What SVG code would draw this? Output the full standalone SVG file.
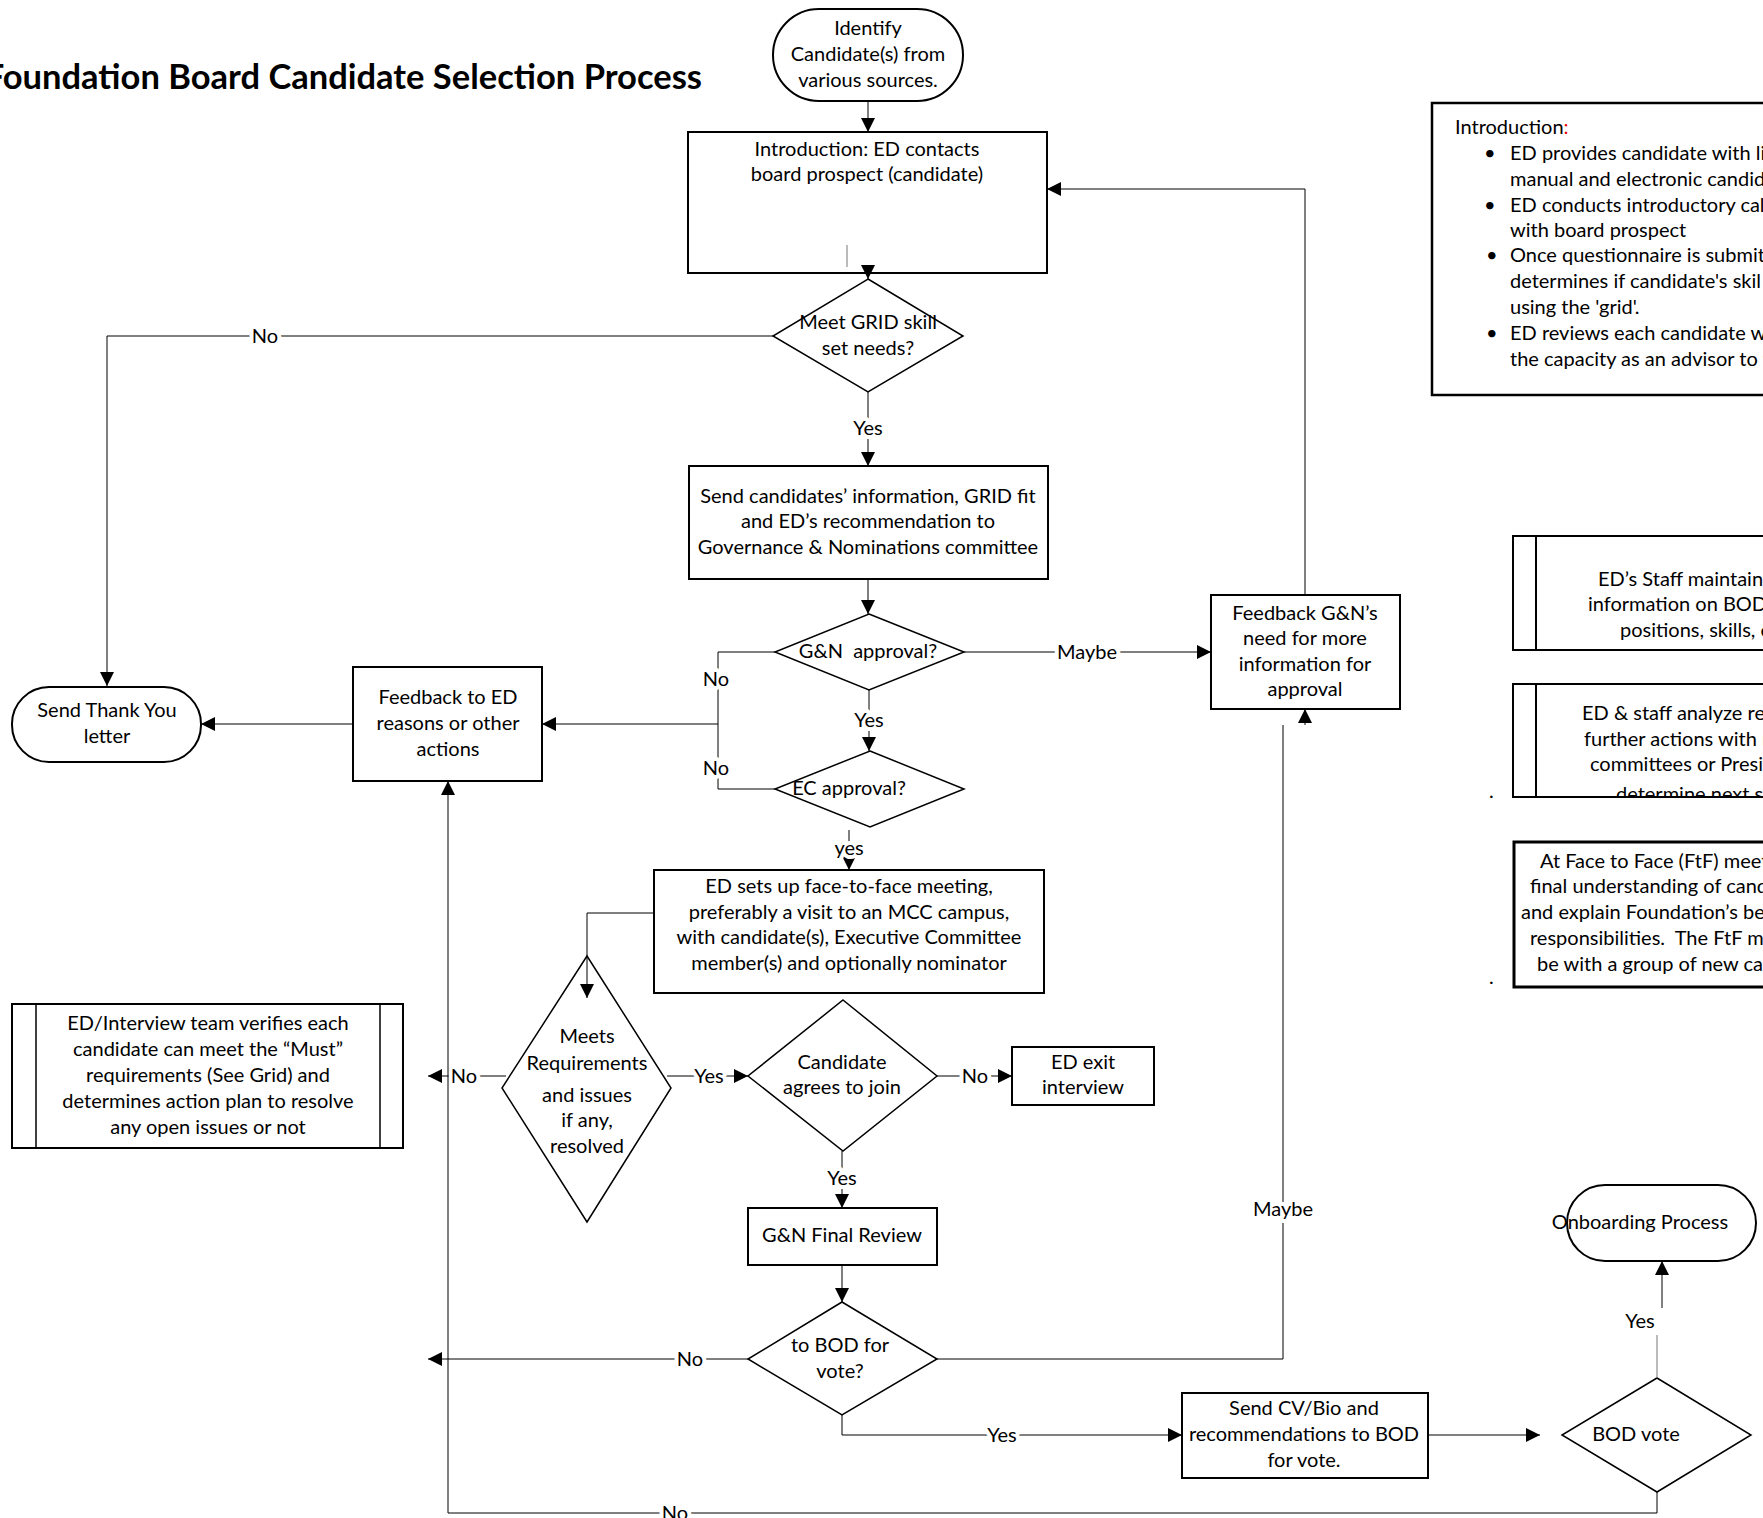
<svg xmlns="http://www.w3.org/2000/svg" width="1763" height="1518" viewBox="0 0 1763 1518">
<style>
.n{fill:#fff;stroke:#000;stroke-width:2}
.d{fill:#fff;stroke:#000;stroke-width:1.5}
.t{font-family:Lato,"Liberation Sans",sans-serif;font-size:20px;fill:#000;text-anchor:middle}
.s{font-family:Lato,"Liberation Sans",sans-serif;font-size:20px;fill:#000}
.c{fill:none;stroke:#000;stroke-width:1}
.g{fill:none;stroke:#777;stroke-width:1}
.a{marker-end:url(#ah)}
.l{font-family:Lato,"Liberation Sans",sans-serif;font-size:20px;fill:#000;text-anchor:middle;paint-order:stroke;stroke:#fff;stroke-width:8;stroke-linejoin:round}
.ttl{font-family:Lato,"Liberation Sans",sans-serif;font-size:34.5px;font-weight:bold;fill:#000;text-anchor:end}
</style>
<defs>
<marker id="ah" viewBox="0 0 10 10" refX="10" refY="5" markerWidth="14" markerHeight="14" markerUnits="userSpaceOnUse" orient="auto">
<path d="M0,0 L10,5 L0,10 z" fill="#000"/>
</marker>
<clipPath id="clipB"><rect x="1513" y="684" width="260" height="112"/></clipPath>
</defs>
<rect width="1763" height="1518" fill="#fff"/>

<text id="title" class="ttl" x="702" y="89">Foundation Board Candidate Selection Process</text>

<g id="start">
<rect class="n" x="773" y="9" width="190" height="92" rx="46" ry="46"/>
<text class="t"><tspan x="868" y="35">Identify</tspan><tspan x="868" y="61">Candidate(s) from</tspan><tspan x="868" y="87">various sources.</tspan></text>
</g>

<g id="intro">
<rect class="n" x="688" y="132" width="359" height="141"/>
<text class="t"><tspan x="867" y="156">Introduction: ED contacts</tspan><tspan x="867" y="181">board prospect (candidate)</tspan></text>
<line class="g" x1="847" y1="245" x2="847" y2="267"/>
</g>

<g id="gridq">
<polygon class="d" points="868,279 963,336 868,392 773,336"/>
<text class="t"><tspan x="868" y="329">Meet GRID skill</tspan><tspan x="868" y="355">set needs?</tspan></text>
</g>

<g id="sendinfo">
<rect class="n" x="689" y="466" width="359" height="113"/>
<text class="t"><tspan x="868" y="503">Send candidates’ information, GRID fit</tspan><tspan x="868" y="528">and ED’s recommendation to</tspan><tspan x="868" y="554">Governance &amp; Nominations committee</tspan></text>
</g>

<g id="gnq">
<polygon class="d" points="869,614 964,652 869,690 775,652"/>
<text class="t" x="868" y="658">G&amp;N&#160; approval?</text>
</g>

<g id="ecq">
<polygon class="d" points="870,751 964,789 870,827 775,789"/>
<text class="t" x="849" y="795">EC approval?</text>
</g>

<g id="fbgn">
<rect class="n" x="1211" y="595" width="189" height="114"/>
<text class="t"><tspan x="1305" y="620">Feedback G&amp;N’s</tspan><tspan x="1305" y="645">need for more</tspan><tspan x="1305" y="671">information for</tspan><tspan x="1305" y="696">approval</tspan></text>
</g>

<g id="fbed">
<rect class="n" x="353" y="667" width="189" height="114"/>
<text class="t"><tspan x="448" y="704">Feedback to ED</tspan><tspan x="448" y="730">reasons or other</tspan><tspan x="448" y="756">actions</tspan></text>
</g>

<g id="thanks">
<rect class="n" x="12" y="687" width="189" height="75" rx="37" ry="37"/>
<text class="t"><tspan x="107" y="717">Send Thank You</tspan><tspan x="107" y="743">letter</tspan></text>
</g>

<g id="ftf">
<rect class="n" x="654" y="870" width="390" height="123"/>
<text class="t"><tspan x="849" y="893">ED sets up face-to-face meeting,</tspan><tspan x="849" y="919">preferably a visit to an MCC campus,</tspan><tspan x="849" y="944">with candidate(s), Executive Committee</tspan><tspan x="849" y="970">member(s) and optionally nominator</tspan></text>
</g>

<g id="meetsq">
<polygon class="d" points="587,956 671,1088 587,1222 502,1088"/>
<text class="t"><tspan x="587" y="1043">Meets</tspan><tspan x="587" y="1070">Requirements</tspan><tspan x="587" y="1102">and issues</tspan><tspan x="587" y="1127">if any,</tspan><tspan x="587" y="1153">resolved</tspan></text>
</g>

<g id="agreeq">
<polygon class="d" points="843,1000 937,1076 843,1151 748,1076"/>
<text class="t"><tspan x="842" y="1069">Candidate</tspan><tspan x="842" y="1094">agrees to join</tspan></text>
</g>

<g id="exit">
<rect class="n" x="1012" y="1047" width="142" height="58"/>
<text class="t"><tspan x="1083" y="1069">ED exit</tspan><tspan x="1083" y="1094">interview</tspan></text>
</g>

<g id="verify">
<rect class="n" x="12" y="1004" width="391" height="144"/>
<line class="c" x1="36" y1="1004" x2="36" y2="1148" style="stroke-width:1.5"/>
<line class="c" x1="380" y1="1004" x2="380" y2="1148" style="stroke-width:1.5"/>
<text class="t"><tspan x="208" y="1030">ED/Interview team verifies each</tspan><tspan x="208" y="1056">candidate can meet the “Must”</tspan><tspan x="208" y="1082">requirements (See Grid) and</tspan><tspan x="208" y="1108">determines action plan to resolve</tspan><tspan x="208" y="1134">any open issues or not</tspan></text>
</g>

<g id="final">
<rect class="n" x="748" y="1208" width="189" height="57"/>
<text class="t" x="842" y="1242">G&amp;N Final Review</text>
</g>

<g id="bodq">
<polygon class="d" points="842,1302 937,1359 842,1415 748,1359"/>
<text class="t"><tspan x="840" y="1352">to BOD for</tspan><tspan x="840" y="1378">vote?</tspan></text>
</g>

<g id="sendcv">
<rect class="n" x="1182" y="1393" width="246" height="85"/>
<text class="t"><tspan x="1304" y="1415">Send CV/Bio and</tspan><tspan x="1304" y="1441">recommendations to BOD</tspan><tspan x="1304" y="1467">for vote.</tspan></text>
</g>

<g id="bodvote">
<polygon class="d" points="1657,1378 1751,1435 1657,1492 1562,1435"/>
<text class="t" x="1636" y="1441">BOD vote</text>
</g>

<g id="onboard">
<rect class="n" x="1567" y="1185" width="189" height="76" rx="38" ry="38"/>
<text class="t" x="1640" y="1229">Onboarding Process</text>
</g>

<g id="note-intro">
<rect class="n" x="1432" y="103" width="360" height="292" style="stroke-width:2.5"/>
<text class="s" x="1455" y="134">Introduction<tspan fill="#e00">:</tspan></text>
<text class="s"><tspan x="1484" y="160">•</tspan><tspan x="1510" y="160">ED provides candidate with li</tspan><tspan x="1510" y="186">manual and electronic candid</tspan><tspan x="1484" y="212">•</tspan><tspan x="1510" y="212">ED conducts introductory call</tspan><tspan x="1510" y="237">with board prospect</tspan><tspan x="1486" y="262">•</tspan><tspan x="1510" y="262">Once questionnaire is submit</tspan><tspan x="1510" y="288">determines if candidate's skil</tspan><tspan x="1510" y="314">using the 'grid'.</tspan><tspan x="1486" y="340">•</tspan><tspan x="1510" y="340">ED reviews each candidate wi</tspan><tspan x="1510" y="366">the capacity as an advisor to t</tspan></text>
</g>

<g id="note-staff">
<rect class="n" x="1513" y="536" width="300" height="114"/>
<line class="c" x1="1536" y1="536" x2="1536" y2="650" style="stroke-width:2"/>
<text class="s"><tspan x="1598" y="586">ED’s Staff maintains</tspan><tspan x="1588" y="611">information on BOD</tspan><tspan x="1620" y="637">positions, skills, e</tspan></text>
</g>

<g id="note-analyze">
<rect class="n" x="1513" y="684" width="300" height="113"/>
<line class="c" x1="1536" y1="684" x2="1536" y2="797" style="stroke-width:2"/>
<text class="s" clip-path="url(#clipB)"><tspan x="1582" y="720">ED &amp; staff analyze rea</tspan><tspan x="1584" y="746">further actions with r</tspan><tspan x="1590" y="771">committees or Presi</tspan><tspan x="1616" y="801">determine next s</tspan></text>
<text class="s" x="1489" y="798">.</text>
</g>

<g id="note-ftf">
<rect class="n" x="1514" y="842" width="300" height="145" style="stroke-width:3"/>
<text class="s"><tspan x="1540" y="868">At Face to Face (FtF) meet</tspan><tspan x="1530" y="893">final understanding of cand</tspan><tspan x="1521" y="919">and explain Foundation’s be</tspan><tspan x="1530" y="945">responsibilities.&#160; The FtF me</tspan><tspan x="1537" y="971">be with a group of new ca</tspan></text>
<text class="s" x="1489" y="984">.</text>
</g>

<g id="connectors">
<path class="c a" d="M868,101 L868,132"/>
<path class="c a" d="M868,266 L868,279"/>
<path class="c a" d="M773,336 L107,336 L107,686"/>
<text class="l" x="265" y="343">No</text>
<path class="c a" d="M868,392 L868,466"/>
<text class="l" x="868" y="435">Yes</text>
<path class="c a" d="M868,579 L868,614"/>
<path class="c a" d="M964,652 L1211,652"/>
<text class="l" x="1087" y="659">Maybe</text>
<path class="c" d="M775,652 L718,652 L718,789 L775,789"/>
<path class="c a" d="M718,724 L542,724"/>
<text class="l" x="716" y="686">No</text>
<text class="l" x="716" y="775">No</text>
<path class="c a" d="M869,690 L869,751"/>
<text class="l" x="869" y="727">Yes</text>
<path class="c a" d="M849,830 L849,870"/>
<text class="l" x="849" y="855">yes</text>
<path class="c a" d="M654,913 L587,913 L587,998"/>
<path class="c a" d="M506,1076 L428,1076"/>
<text class="l" x="464" y="1083">No</text>
<path class="c a" d="M667,1076 L748,1076"/>
<text class="l" x="709" y="1083">Yes</text>
<path class="c a" d="M937,1076 L1012,1076"/>
<text class="l" x="975" y="1083">No</text>
<path class="c a" d="M842,1151 L842,1208"/>
<text class="l" x="842" y="1185">Yes</text>
<path class="c a" d="M842,1265 L842,1302"/>
<path class="c a" d="M748,1359 L428,1359"/>
<text class="l" x="690" y="1366">No</text>
<path class="c" d="M937,1359 L1283,1359 L1283,725"/>
<text class="l" x="1283" y="1216">Maybe</text>
<path class="c a" d="M1305,725 L1305,709"/>
<path class="c a" d="M1305,595 L1305,189 L1047,189"/>
<path class="c a" d="M353,724 L201,724"/>
<path class="c a" d="M842,1415 L842,1435 L1182,1435"/>
<text class="l" x="1002" y="1442">Yes</text>
<path class="c a" d="M1428,1435 L1540,1435"/>
<path class="g" d="M1657,1378 L1657,1335"/>
<text class="l" x="1640" y="1328">Yes</text>
<path class="c a" d="M1662,1308 L1662,1261"/>
<path class="c a" d="M1657,1492 L1657,1513 L448,1513 L448,781"/>
<text class="l" x="675" y="1520">No</text>
</g>
</svg>
